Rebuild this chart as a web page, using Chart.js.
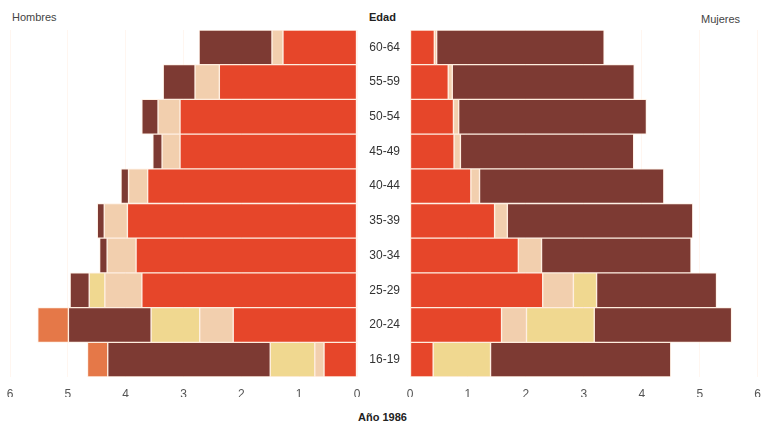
<!DOCTYPE html>
<html>
<head>
<meta charset="utf-8">
<script src="https://cdn.jsdelivr.net/npm/chart.js@4"></script>
<style>
  body { margin: 0; width: 765px; height: 423px; background: #fff; position: relative; overflow: hidden;
         font-family: "Liberation Sans", Arial, sans-serif; }
  .box { position: absolute; }
  .txt { position: absolute; font-size: 11px; color: #444; white-space: nowrap; }
  .bold { font-weight: bold; color: #222; }
</style>
</head>
<body>
<div class="txt" style="left:12px; top:11px;">Hombres</div>
<div class="txt" style="left:701px; top:13px;">Mujeres</div>
<div class="txt bold" style="left:369px; top:11px;">Edad</div>
<div class="txt bold" style="left:358px; top:411px;">Año 1986</div>

<div class="box" style="left:0; top:0; width:367px; height:423px;"><canvas id="menChart"></canvas></div>
<div class="box" style="left:357px; top:0; width:414px; height:423px;"><canvas id="womenChart"></canvas></div>

<script>
const ages = ['60-64', '55-59', '50-54', '45-49', '40-44', '35-39', '30-34', '25-29', '20-24', '16-19'];
const xTicks = [0, 1, 2, 3, 4, 5, 6];

// Hombres, from the centre outwards
const menRed    = [1.28, 2.38, 3.06, 3.06, 3.62, 3.97, 3.82, 3.72, 2.14, 0.57];
const menBeige  = [0.19, 0.42, 0.38, 0.31, 0.33, 0.40, 0.50, 0.64, 0.58, 0.16];
const menYellow = [0, 0, 0, 0, 0, 0, 0, 0.27, 0.84, 0.77];
const menBrown  = [1.26, 0.55, 0.28, 0.16, 0.13, 0.12, 0.13, 0.33, 1.43, 2.81];
const menOrange = [0, 0, 0, 0, 0, 0, 0, 0, 0.53, 0.35];

// Mujeres, from the centre outwards
const womenRed    = [0.42, 0.66, 0.75, 0.76, 1.05, 1.46, 1.87, 2.29, 1.58, 0.40];
const womenBeige  = [0.04, 0.07, 0.09, 0.11, 0.15, 0.22, 0.40, 0.53, 0.43, 0];
const womenYellow = [0, 0, 0, 0, 0, 0, 0, 0.40, 1.17, 0.99];
const womenBrown  = [2.89, 3.14, 3.24, 2.99, 3.18, 3.20, 2.58, 2.07, 2.37, 3.11];

const colors = {
    red: '#e6462a',
    beige: '#f2cfae',
    yellow: '#f0d890',
    brown: '#7d3a33',
    orange: '#e57848'
};

function makeSet(data, color) {
    return {
        data: data,
        backgroundColor: color,
        borderColor: 'rgba(255, 225, 200, 0.45)',
        borderWidth: 1,
        borderSkipped: false,
        barPercentage: 1,
        categoryPercentage: 1
    };
}

function xScale(reverse) {
    return {
        type: 'linear',
        stacked: true,
        reverse: reverse,
        min: 0,
        max: 6,
        z: 1,
        afterBuildTicks: (s) => { s.ticks = xTicks.map(v => ({ value: v })); },
        afterFit: (s) => { s.height = 20; },
        grid: { color: 'rgba(255, 212, 185, 0.22)', drawTicks: false, lineWidth: 1 },
        border: { display: false },
        ticks: { padding: 10, color: '#555', font: { family: 'Liberation Sans', size: 12 } }
    };
}

const commonOpts = {
    indexAxis: 'y',
    responsive: true,
    maintainAspectRatio: false,
    animation: false,
    plugins: { legend: { display: false }, tooltip: { enabled: false } }
};

new Chart(document.getElementById('menChart'), {
    type: 'bar',
    data: {
        labels: ages,
        datasets: [
            makeSet(menRed, colors.red),
            makeSet(menBeige, colors.beige),
            makeSet(menYellow, colors.yellow),
            makeSet(menBrown, colors.brown),
            makeSet(menOrange, colors.orange)
        ]
    },
    options: {
        ...commonOpts,
        layout: { padding: { left: 10, right: 10, top: 30, bottom: 26 } },
        scales: {
            x: xScale(true),
            y: { stacked: true, display: false }
        }
    }
});

new Chart(document.getElementById('womenChart'), {
    type: 'bar',
    data: {
        labels: ages,
        datasets: [
            makeSet(womenRed, colors.red),
            makeSet(womenBeige, colors.beige),
            makeSet(womenYellow, colors.yellow),
            makeSet(womenBrown, colors.brown)
        ]
    },
    options: {
        ...commonOpts,
        layout: { padding: { left: 0, right: 0, top: 30, bottom: 26 } },
        scales: {
            x: xScale(false),
            y: {
                stacked: true,
                position: 'left',
                afterFit: (s) => { s.width = 53; },
                grid: { display: false, drawTicks: false },
                border: { display: false },
                ticks: {
                    crossAlign: 'center',
                    padding: 10,
                    color: '#333',
                    font: { family: 'Liberation Sans', size: 12 }
                }
            }
        }
    }
});
</script>
</body>
</html>
